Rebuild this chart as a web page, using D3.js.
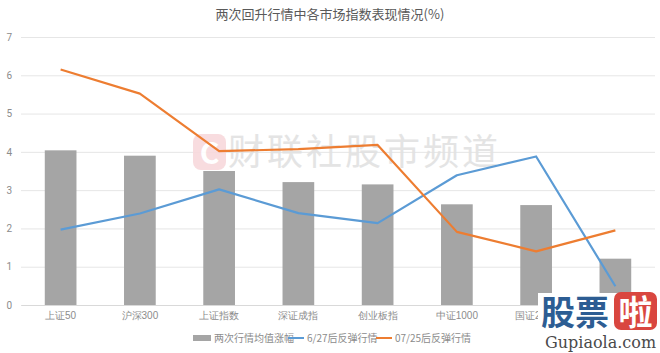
<!DOCTYPE html>
<html><head><meta charset="utf-8">
<script src="https://cdn.jsdelivr.net/npm/d3@7"></script>
<style>body{margin:0;background:#fff;}svg{display:block;font-family:"Noto Sans CJK SC","Noto Sans",sans-serif;}</style>
</head><body>
<svg id="c" width="660" height="353"></svg>
<script>
const categories = ["上证50","沪深300","上证指数","深证成指","创业板指","中证1000","国证2000","科创50"];
const avgRise = [4.04,3.90,3.50,3.21,3.15,2.63,2.61,1.21];
const rally0627 = [1.97,2.39,3.02,2.40,2.14,3.39,3.88,0.49];
const rally0725 = [6.15,5.52,4.02,4.07,4.18,1.91,1.40,1.95];
const yTicks = [0,1,2,3,4,5,6,7];
const seriesNames = ["两次行情均值涨幅","6/27后反弹行情","07/25后反弹行情"];

const svg = d3.select("#c");
const W = 660, H = 353;
const m = {l:21, r:5, t:37, b:48};
const x = d3.scaleBand().domain(categories).range([m.l, W - m.r]).paddingInner(0.6).paddingOuter(0.3);
const y = d3.scaleLinear().domain([0,7]).range([305, 37]);

// title
svg.append("text").attr("x", 330).attr("y", 19).attr("text-anchor","middle")
  .attr("font-size", 13).attr("fill", "#595959").text("两次回升行情中各市场指数表现情况(%)");

// grid
const yAxis = d3.axisLeft(y).tickValues(yTicks).tickSize(-(W - m.r - m.l)).tickFormat(d3.format("d"));
const ga = svg.append("g").attr("transform", `translate(${m.l},0)`).call(yAxis);
ga.select(".domain").remove();
ga.selectAll(".tick line").attr("stroke", "#e6e6e6");
ga.selectAll(".tick text").attr("x", -9).attr("fill", "#8c8c8c").attr("font-size", 10).attr("font-family","Roboto,sans-serif");

// watermark
const wm = svg.append("g").attr("opacity", 0.9);
wm.append("rect").attr("x", 193).attr("y", 134).attr("width", 33).attr("height", 36).attr("rx", 8).attr("fill", "#f8d9dc");
wm.append("text").attr("x", 209.5).attr("y", 164).attr("text-anchor","middle").attr("font-size", 30).attr("font-weight","bold").attr("fill","#fff").text("C");
wm.append("text").attr("x", 228).attr("y", 165).attr("font-size", 36).attr("fill", "#e2e2e2").attr("letter-spacing", 3).text("财联社股市频道");

// bars
svg.append("g").selectAll("rect").data(avgRise).join("rect")
  .attr("x", (d,i) => x(categories[i]))
  .attr("width", x.bandwidth())
  .attr("y", d => y(d))
  .attr("height", d => y(0) - y(d))
  .attr("fill", "#a5a5a5");

// x axis
const xa = svg.append("g").attr("transform", `translate(0,${y(0)})`).call(d3.axisBottom(x).tickSize(0).tickPadding(7));
xa.select(".domain").attr("stroke", "#d9d9d9");
xa.selectAll(".tick text").attr("fill", "#8c8c8c").attr("font-size", 10);

// lines
const cx = i => x(categories[i]) + x.bandwidth()/2;
const line = d3.line().x((d,i) => cx(i)).y(d => y(d));
svg.append("path").datum(rally0627).attr("d", line).attr("fill","none").attr("stroke","#5b9bd5").attr("stroke-width",2.2).attr("stroke-linejoin","round");
svg.append("path").datum(rally0725).attr("d", line).attr("fill","none").attr("stroke","#ed7d31").attr("stroke-width",2.2).attr("stroke-linejoin","round");

// legend
const lg = svg.append("g").attr("font-size", 10).attr("fill", "#8c8c8c");
lg.append("rect").attr("x", 193).attr("y", 335).attr("width", 18).attr("height", 6).attr("fill", "#a5a5a5");
lg.append("text").attr("x", 214).attr("y", 342).attr("fill","#8c8c8c").text(seriesNames[0]);
lg.append("line").attr("x1", 288).attr("x2", 304).attr("y1", 338).attr("y2", 338).attr("stroke","#5b9bd5").attr("stroke-width",2);
lg.append("text").attr("x", 307).attr("y", 342).attr("fill","#8c8c8c").text(seriesNames[1]);
lg.append("line").attr("x1", 376).attr("x2", 392).attr("y1", 338).attr("y2", 338).attr("stroke","#ed7d31").attr("stroke-width",2);
lg.append("text").attr("x", 395).attr("y", 342).attr("fill","#8c8c8c").text(seriesNames[2]);

// site logo overlay
const logo = svg.append("g");
logo.append("rect").attr("x", 538).attr("y", 293).attr("width", 122).attr("height", 60).attr("fill", "#fff");
logo.append("text").attr("x", 541).attr("y", 325).attr("font-size", 34).attr("font-weight", "bold").attr("fill", "#2d5d93").text("股票");
logo.append("rect").attr("x", 614).attr("y", 292).attr("width", 43).attr("height", 38).attr("rx", 7).attr("fill", "#d9463f");
logo.append("text").attr("x", 635.5).attr("y", 325).attr("text-anchor","middle").attr("font-size", 34).attr("font-weight", "bold").attr("fill", "#fff").text("啦");
logo.append("text").attr("x", 545).attr("y", 348).attr("font-size", 16).attr("font-family", "DejaVu Serif, serif").attr("fill", "#4a4a4a").text("Gupiaola.com");
</script>
</body></html>
